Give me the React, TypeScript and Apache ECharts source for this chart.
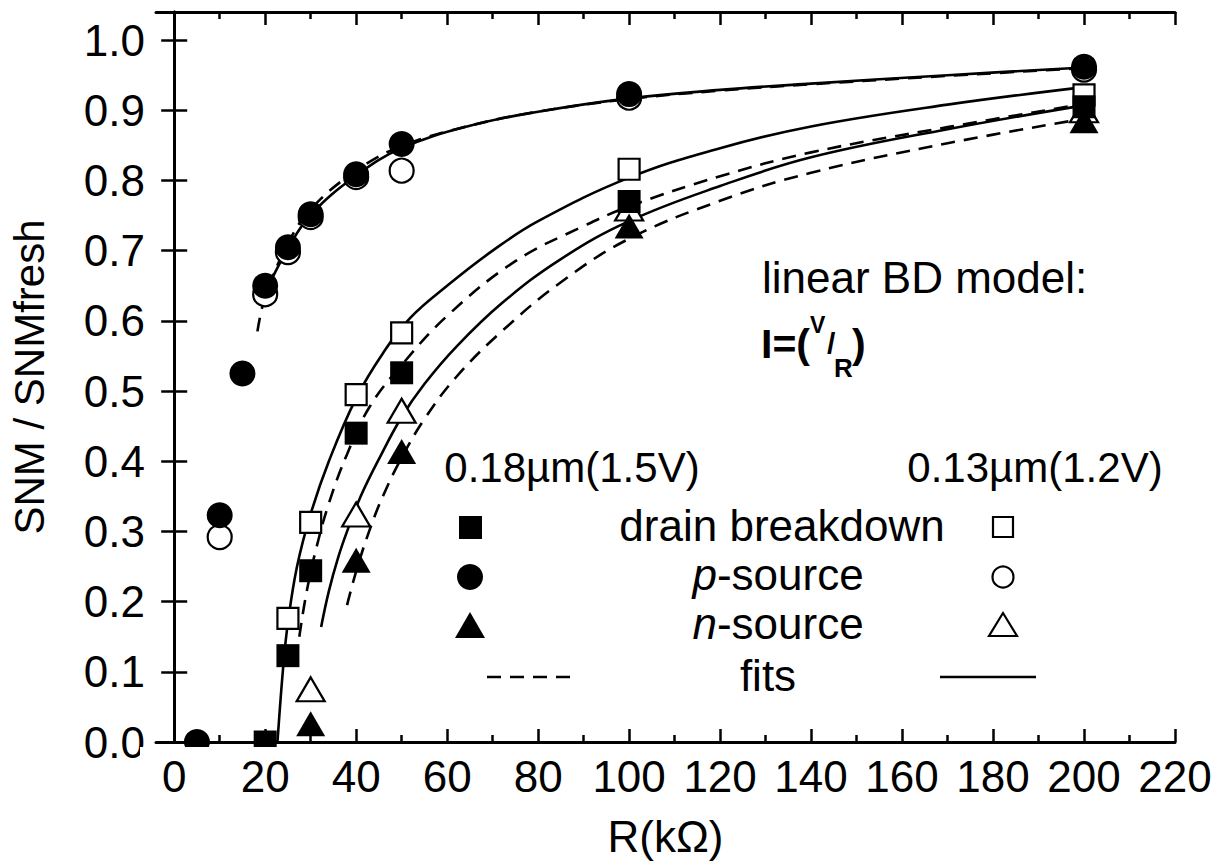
import React, { useEffect, useRef } from "react";
import * as echarts from "echarts";

// ---------- axis ticks ----------
const xTicks = [0, 20, 40, 60, 80, 100, 120, 140, 160, 180, 200, 220];
const xMinorTicks = [10, 30, 50, 70, 90, 110, 130, 150, 170, 190, 210];
const yTicks = [0, 0.1, 0.2, 0.3, 0.4, 0.5, 0.6, 0.7, 0.8, 0.9, 1.0];

// ---------- measured points ----------
const drainR18 = [20, 25, 30, 40, 50, 100, 200];
const drainV18 = [0.0, 0.123, 0.244, 0.44, 0.526, 0.77, 0.905];
const drainR13 = [25, 30, 40, 50, 100, 200];
const drainV13 = [0.176, 0.313, 0.495, 0.583, 0.816, 0.922];
const pR18 = [5, 10, 15, 20, 25, 30, 40, 50, 100, 200];
const pV18 = [0.0, 0.323, 0.525, 0.65, 0.705, 0.752, 0.809, 0.852, 0.923, 0.962];
const pR13 = [10, 20, 25, 30, 40, 50, 100, 200];
const pV13 = [0.292, 0.638, 0.698, 0.748, 0.805, 0.814, 0.918, 0.958];
const nR18 = [30, 40, 50, 100, 200];
const nV18 = [0.026, 0.259, 0.414, 0.735, 0.885];
const nR13 = [30, 40, 50, 100, 200];
const nV13 = [0.075, 0.324, 0.472, 0.76, 0.9];

// ---------- fit curves ----------
const pFitSolidR = [20, 25, 30, 40, 50, 65, 80, 100, 120, 140, 170, 200];
const pFitSolidV = [0.64, 0.703, 0.751, 0.807, 0.846, 0.878, 0.898, 0.917, 0.929, 0.938, 0.95, 0.961];
const pFitDashR = [18.3, 20, 25, 30, 40, 50, 65, 80, 100, 120, 140, 170, 200];
const pFitDashV = [0.585, 0.634, 0.71, 0.759, 0.814, 0.849, 0.878, 0.898, 0.916, 0.928, 0.937, 0.949, 0.96];
const drainFitSolidR = [22.7, 24, 25, 27, 30, 34, 40, 46, 52, 60, 70, 80, 100, 120, 140, 170, 200];
const drainFitSolidV = [0.0, 0.11, 0.17, 0.25, 0.325, 0.4, 0.49, 0.555, 0.605, 0.65, 0.7, 0.742, 0.804, 0.846, 0.877, 0.908, 0.933];
const drainFitDashR = [27.5, 29, 31, 34, 38, 43, 50, 60, 75, 90, 100, 120, 140, 170, 200];
const drainFitDashV = [0.15, 0.21, 0.27, 0.34, 0.41, 0.478, 0.537, 0.607, 0.685, 0.735, 0.763, 0.806, 0.84, 0.876, 0.909];
const nFitSolidR = [32.3, 34, 36, 38, 41, 45, 50, 55, 62, 72, 85, 100, 120, 140, 170, 200];
const nFitSolidV = [0.164, 0.215, 0.262, 0.3, 0.35, 0.403, 0.463, 0.51, 0.563, 0.625, 0.688, 0.742, 0.792, 0.833, 0.873, 0.907];
const nFitDashR = [38, 40, 43, 46, 50, 55, 62, 72, 85, 100, 120, 140, 170, 200];
const nFitDashV = [0.195, 0.243, 0.303, 0.352, 0.405, 0.46, 0.52, 0.585, 0.655, 0.717, 0.771, 0.811, 0.853, 0.888];

const FONT = "'Liberation Sans', Arial, Helvetica, sans-serif";

const zip = (xs: number[], ys: number[]) => xs.map((x, i) => [x, ys[i]]);

function fitLine(name: string, xs: number[], ys: number[], dashed: boolean) {
  return {
    name,
    type: "line",
    data: zip(xs, ys),
    showSymbol: false,
    smooth: 0.4,
    lineStyle: { color: "#000", width: 2.6, type: dashed ? [14, 9] : "solid", opacity: 1 },
    z: 3,
  };
}

function scatter(name: string, xs: number[], ys: number[], symbol: string, size: any, filled: boolean) {
  return {
    name,
    type: "scatter",
    data: zip(xs, ys),
    symbol,
    symbolSize: size,
    itemStyle: filled
      ? { color: "#000", opacity: 1 }
      : { color: "#fff", borderColor: "#000", borderWidth: 2.2, opacity: 1 },
    z: filled ? 6 : 5,
  };
}

export default function App() {
  const ref = useRef<HTMLDivElement>(null);
  useEffect(() => {
    if (!ref.current) return;
    const chart = echarts.init(ref.current, undefined, { renderer: "svg" });
    const axisLine = { show: true, lineStyle: { color: "#000", width: 3 } };
    const majorTick = (vals: number[]) => ({
      show: true,
      inside: true,
      length: 13,
      customValues: vals,
      lineStyle: { color: "#000", width: 2.5 },
    });
    const minorTick = (vals: number[]) => ({
      show: true,
      inside: true,
      length: 7,
      customValues: vals,
      lineStyle: { color: "#000", width: 2.5 },
    });
    const xBase = { type: "value", min: -4, max: 220, splitLine: { show: false } };
    const yBase = { type: "value", min: 0, max: 1.04, splitLine: { show: false } };

    const textStyleBig = { fontFamily: FONT, fontSize: 44, fill: "#000" };

    chart.setOption({
      animation: false,
      backgroundColor: "#fff",
      grid: { left: 150, right: 41, top: 12, bottom: 118, containLabel: false },
      xAxis: [
        {
          ...xBase,
          position: "bottom",
          axisLine,
          axisTick: majorTick(xTicks),
          axisLabel: {
            customValues: xTicks,
            color: "#000",
            fontSize: 44,
            fontFamily: FONT,
            margin: 12,
          },
          name: "R(kΩ)",
          nameLocation: "middle",
          nameGap: 72,
          nameTextStyle: { color: "#000", fontSize: 44, fontFamily: FONT },
        },
        {
          ...xBase,
          position: "bottom",
          axisLine: { show: false },
          axisTick: minorTick(xMinorTicks),
          axisLabel: { show: false },
        },
        {
          ...xBase,
          position: "top",
          axisLine,
          axisTick: majorTick(xTicks),
          axisLabel: { show: false },
        },
        {
          ...xBase,
          position: "top",
          axisLine: { show: false },
          axisTick: minorTick(xMinorTicks),
          axisLabel: { show: false },
        },
      ],
      yAxis: [
        {
          ...yBase,
          position: "left",
          axisLine,
          axisTick: majorTick(yTicks),
          axisLabel: {
            customValues: yTicks,
            formatter: (v: number) => v.toFixed(1),
            color: "#000",
            fontSize: 44,
            fontFamily: FONT,
            margin: 11,
          },
          name: "SNM / SNMfresh",
          nameLocation: "middle",
          nameGap: 106,
          nameRotate: 90,
          nameTextStyle: { color: "#000", fontSize: 42, fontFamily: FONT },
        },
        {
          ...yBase,
          position: "right",
          axisLine,
          axisTick: majorTick(yTicks),
          axisLabel: { show: false },
        },
      ],
      series: [
        fitLine("p fit 0.18", pFitDashR, pFitDashV, true),
        fitLine("p fit 0.13", pFitSolidR, pFitSolidV, false),
        fitLine("drain fit 0.18", drainFitDashR, drainFitDashV, true),
        fitLine("drain fit 0.13", drainFitSolidR, drainFitSolidV, false),
        fitLine("n fit 0.18", nFitDashR, nFitDashV, true),
        fitLine("n fit 0.13", nFitSolidR, nFitSolidV, false),
        scatter("p-source 0.13", pR13, pV13, "circle", 24, false),
        scatter("drain breakdown 0.13", drainR13, drainV13, "rect", 21, false),
        scatter("n-source 0.13", nR13, nV13, "triangle", [28, 24], false),
        scatter("p-source 0.18", pR18, pV18, "circle", 26, true),
        scatter("drain breakdown 0.18", drainR18, drainV18, "rect", 23, true),
        scatter("n-source 0.18", nR18, nV18, "triangle", [29, 25], true),
      ],
      graphic: [
        // mask below bottom axis so markers on y=0 appear cut
        { type: "rect", shape: { x: 140, y: 747, width: 1060, height: 10 }, style: { fill: "#fff" }, z: 50 },
        // annotation
        { type: "text", x: 762, y: 277, style: { ...textStyleBig, text: "linear BD model:", align: "left", verticalAlign: "middle" }, z: 60 },
        { type: "text", x: 761, y: 344, style: { fontFamily: FONT, fontWeight: "bold", fontSize: 41, fill: "#000", text: "I=(", align: "left", verticalAlign: "middle" }, z: 60 },
        { type: "text", x: 810, y: 325, style: { fontFamily: FONT, fontWeight: "bold", fontSize: 23, fill: "#000", text: "V", align: "left", verticalAlign: "middle" }, z: 60 },
        { type: "text", x: 827, y: 343, style: { fontFamily: FONT, fontWeight: "bold", fontSize: 30, fill: "#000", text: "/", align: "left", verticalAlign: "middle" }, z: 60 },
        { type: "text", x: 834, y: 368, style: { fontFamily: FONT, fontWeight: "bold", fontSize: 26, fill: "#000", text: "R", align: "left", verticalAlign: "middle" }, z: 60 },
        { type: "text", x: 852, y: 344, style: { fontFamily: FONT, fontWeight: "bold", fontSize: 41, fill: "#000", text: ")", align: "left", verticalAlign: "middle" }, z: 60 },
        // legend headers
        { type: "text", x: 572, y: 467, style: { ...textStyleBig, fontSize: 42, text: "0.18µm(1.5V)", align: "center", verticalAlign: "middle" }, z: 60 },
        { type: "text", x: 1035, y: 467, style: { ...textStyleBig, fontSize: 42, text: "0.13µm(1.2V)", align: "center", verticalAlign: "middle" }, z: 60 },
        // legend row labels
        { type: "text", x: 782, y: 525, style: { ...textStyleBig, text: "drain breakdown", align: "center", verticalAlign: "middle" }, z: 60 },
        {
          type: "text", x: 778, y: 574,
          style: {
            ...textStyleBig, text: "{i|p}-source", align: "center", verticalAlign: "middle",
            rich: { i: { fontStyle: "italic", fontSize: 44, fontFamily: FONT, fill: "#000" } },
          },
          z: 60,
        },
        {
          type: "text", x: 778, y: 623,
          style: {
            ...textStyleBig, text: "{i|n}-source", align: "center", verticalAlign: "middle",
            rich: { i: { fontStyle: "italic", fontSize: 44, fontFamily: FONT, fill: "#000" } },
          },
          z: 60,
        },
        { type: "text", x: 768, y: 675, style: { ...textStyleBig, text: "fits", align: "center", verticalAlign: "middle" }, z: 60 },
        // legend symbols (0.18 column)
        { type: "rect", shape: { x: 459, y: 516, width: 23, height: 23 }, style: { fill: "#000" }, z: 60 },
        { type: "circle", shape: { cx: 470, cy: 577, r: 13 }, style: { fill: "#000" }, z: 60 },
        { type: "polygon", shape: { points: [[470, 612], [455, 638], [485, 638]] }, style: { fill: "#000" }, z: 60 },
        { type: "line", shape: { x1: 487, y1: 677, x2: 572, y2: 677 }, style: { stroke: "#000", lineWidth: 2.6, lineDash: [14, 9] }, z: 60 },
        // legend symbols (0.13 column)
        { type: "rect", shape: { x: 993, y: 517, width: 20, height: 20 }, style: { fill: "#fff", stroke: "#000", lineWidth: 2.2 }, z: 60 },
        { type: "circle", shape: { cx: 1003, cy: 577, r: 10.5 }, style: { fill: "#fff", stroke: "#000", lineWidth: 2.2 }, z: 60 },
        { type: "polygon", shape: { points: [[1003, 613], [989, 636], [1017, 636]] }, style: { fill: "#fff", stroke: "#000", lineWidth: 2.2 }, z: 60 },
        { type: "line", shape: { x1: 940, y1: 677, x2: 1036, y2: 677 }, style: { stroke: "#000", lineWidth: 2.6 }, z: 60 },
      ],
    });
    return () => chart.dispose();
  }, []);
  return (
    <div
      ref={ref}
      style={{ position: "fixed", left: 0, top: 0, width: 1216, height: 863, background: "#fff" }}
    />
  );
}
